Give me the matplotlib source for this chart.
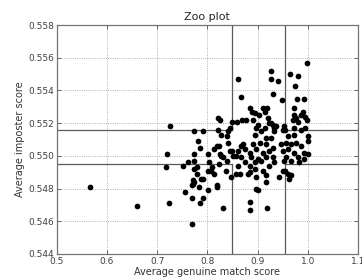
import matplotlib
matplotlib.use("Agg")
import matplotlib.pyplot as plt

# average genuine match score per user
genuine = [
    0.567, 0.659, 0.719, 0.718, 0.724, 0.770, 0.726, 0.773, 0.791,
    0.822, 0.826, 0.848, 0.821, 0.827, 0.840, 0.844, 0.839, 0.786, 0.752,
    0.761, 0.773, 0.779, 0.779, 0.771, 0.772, 0.770, 0.774, 0.788, 0.791,
    0.784, 0.756, 0.801, 0.770, 0.791, 0.786, 0.831, 0.804, 0.809, 0.801,
    0.807, 0.819, 0.820, 0.823, 0.826, 0.819, 0.824, 0.831, 0.839, 0.837,
    0.847, 0.844, 0.849, 0.857,
    0.998, 0.860, 0.927, 0.927, 0.941, 0.965, 0.980, 0.975, 0.867, 0.931,
    0.948, 0.978, 0.993, 0.972, 0.990, 0.885, 0.888, 0.894, 0.910, 0.919,
    0.915, 0.902, 0.921, 0.858, 0.868, 0.877, 0.973, 0.976, 0.971, 0.980,
    0.995, 0.998, 0.995, 0.953, 0.955, 0.950, 0.930, 0.933, 0.922, 0.914,
    0.897, 0.900,
    0.890, 0.986, 0.927, 0.937, 0.973, 0.986, 0.907, 0.933, 0.894, 0.960,
    0.973, 1.000, 0.917, 0.927, 0.781, 0.841, 0.867, 0.870, 0.890, 0.904,
    0.917, 0.930, 0.947, 0.957, 0.967, 0.977, 0.986, 1.000, 0.814, 0.860,
    0.874, 0.884, 0.897, 0.910, 0.923, 0.950, 0.960, 0.973, 0.993, 1.000,
    0.774, 0.801, 0.827, 0.850, 0.867, 0.887, 0.900, 0.917, 0.930, 0.957,
    0.980, 0.993, 0.874, 0.894, 0.907, 0.933, 0.953, 0.967, 0.983, 0.860,
    0.884, 0.923, 0.774, 0.894, 0.910, 0.864, 0.880, 0.950, 0.960, 0.814,
    0.897, 0.917,
    0.884, 0.884, 0.919, 0.896, 0.900, 0.917, 0.943, 0.963, 0.966, 0.955,
    0.857, 0.884,
]

# average imposter score per user
imposter = [
    0.5481, 0.5469, 0.5501, 0.5493, 0.5471, 0.5458, 0.5518, 0.5515, 0.5515,
    0.5523, 0.5522, 0.5521, 0.5516, 0.5513, 0.5515, 0.5517, 0.5512, 0.5505, 0.5494,
    0.5496, 0.5497, 0.5493, 0.5489, 0.5485, 0.5483, 0.5482, 0.5484, 0.5486, 0.5486,
    0.5481, 0.5478, 0.5479, 0.5474, 0.5474, 0.5471, 0.5468, 0.5496, 0.5493, 0.5491,
    0.5491, 0.5482, 0.5481, 0.5495, 0.5501, 0.5506, 0.5506, 0.5499, 0.5497, 0.5491,
    0.5487, 0.5503, 0.5503, 0.5500,
    0.5557, 0.5547, 0.5552, 0.5547, 0.5546, 0.5550, 0.5549, 0.5543, 0.5536, 0.5538,
    0.5534, 0.5535, 0.5535, 0.5529, 0.5527, 0.5529, 0.5527, 0.5526, 0.5529, 0.5529,
    0.5527, 0.5525, 0.5523, 0.5521, 0.5522, 0.5522, 0.5525, 0.5523, 0.5522, 0.5521,
    0.5524, 0.5522, 0.5517, 0.5518, 0.5516, 0.5516, 0.5519, 0.5517, 0.5520, 0.5517,
    0.5517, 0.5519,
    0.5522, 0.5525, 0.5520, 0.5518, 0.5517, 0.5516, 0.5515, 0.5515, 0.5513, 0.5512,
    0.5513, 0.5512, 0.5511, 0.5511, 0.5509, 0.5508, 0.5506, 0.5507, 0.5507, 0.5508,
    0.5507, 0.5505, 0.5507, 0.5508, 0.5507, 0.5508, 0.5506, 0.5509, 0.5504, 0.5503,
    0.5504, 0.5502, 0.5504, 0.5502, 0.5503, 0.5503, 0.5504, 0.5502, 0.5502, 0.5501,
    0.5501, 0.5501, 0.5500, 0.5500, 0.5499, 0.5499, 0.5498, 0.5499, 0.5499, 0.5499,
    0.5499, 0.5498, 0.5496, 0.5496, 0.5497, 0.5496, 0.5497, 0.5497, 0.5496, 0.5494,
    0.5494, 0.5494, 0.5492, 0.5492, 0.5491, 0.5489, 0.5489, 0.5491, 0.5489, 0.5489,
    0.5487, 0.5488,
    0.5472, 0.5467, 0.5468, 0.5480, 0.5479, 0.5484, 0.5487, 0.5486, 0.5488, 0.5491,
    0.5489, 0.5490,
]

# quartile thresholds
g_lo, g_hi = 0.848, 0.955
i_lo, i_hi = 0.5495, 0.5516

xticks = [0.5, 0.6, 0.7, 0.8, 0.9, 1.0, 1.1]
yticks = [0.544, 0.546, 0.548, 0.550, 0.552, 0.554, 0.556, 0.558]

fig = plt.figure(figsize=(3.62, 2.79), dpi=100)
ax = fig.add_axes([0.157, 0.09, 0.832, 0.82])

ax.scatter(genuine, imposter, s=17, c="k", linewidths=0, zorder=3)

x0, x1 = xticks[0], xticks[-1]
y0, y1 = yticks[0], yticks[-1]
lc = "0.35"
lw = 0.9
# cross of quartile lines, centre box left open
ax.plot([x0, g_lo], [i_lo, i_lo], color=lc, lw=lw)
ax.plot([g_hi, x1], [i_lo, i_lo], color=lc, lw=lw)
ax.plot([x0, g_lo], [i_hi, i_hi], color=lc, lw=lw)
ax.plot([g_hi, x1], [i_hi, i_hi], color=lc, lw=lw)
ax.plot([g_lo, g_lo], [y0, i_lo], color=lc, lw=lw)
ax.plot([g_hi, g_hi], [y0, i_lo], color=lc, lw=lw)
ax.plot([g_lo, g_lo], [i_hi, y1], color=lc, lw=lw)
ax.plot([g_hi, g_hi], [i_hi, y1], color=lc, lw=lw)

ax.set_xlim(x0, x1)
ax.set_ylim(y0, y1)
ax.set_xticks(xticks)
ax.set_yticks(yticks)
ax.set_xticklabels(["%.1f" % v for v in xticks])
ax.set_yticklabels(["%.3f" % v for v in yticks])
ax.tick_params(direction="in", labelsize=6.5, length=3, width=0.6,
               colors="0.3", labelcolor="0.25", pad=2, top=True, right=True)
ax.grid(True, linestyle=":", color="0.6", linewidth=0.6)
for s in ax.spines.values():
    s.set_color("0.45")
    s.set_linewidth(0.9)

ax.set_title("Zoo plot", fontsize=8, color="0.15", pad=4)
ax.set_xlabel("Average genuine match score", fontsize=7, color="0.2", labelpad=1)
ax.set_ylabel("Average imposter score", fontsize=7, color="0.2", labelpad=2)

fig.savefig("out.png", dpi=100)
